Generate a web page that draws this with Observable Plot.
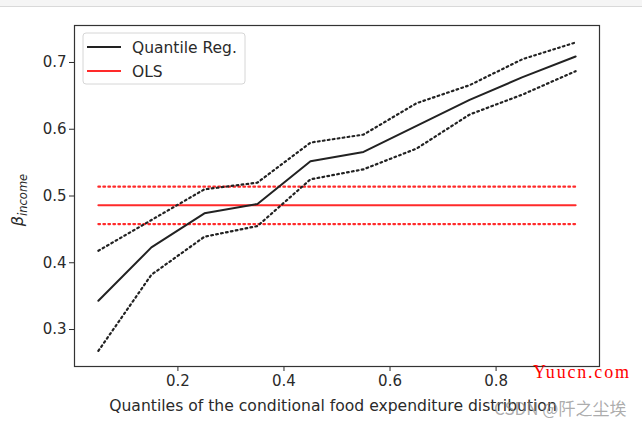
<!DOCTYPE html>
<html><head><meta charset="utf-8">
<script src="https://cdn.jsdelivr.net/npm/d3@7"></script>
<script src="https://cdn.jsdelivr.net/npm/@observablehq/plot@0.6"></script>
<style>
body{margin:0;background:#fff;}
#wrap{position:relative;width:642px;height:427px;overflow:hidden;background:#fff;}
#bar{position:absolute;left:0;top:0;width:642px;height:6px;background:#f5f5f5;border-bottom:1px solid #d9d9d9;}
#wrap svg{position:absolute;left:0;top:0;}
</style>
</head><body><div id="wrap"><div id="bar"></div></div>
<script>
const quantiles = [0.05, 0.15, 0.25, 0.35, 0.45, 0.55, 0.65, 0.75, 0.85, 0.95];
const qrCoef  = [0.343, 0.423, 0.474, 0.488, 0.552, 0.566, 0.605, 0.644, 0.678, 0.709];
const qrLower = [0.268, 0.382, 0.439, 0.455, 0.525, 0.540, 0.571, 0.622, 0.652, 0.687];
const qrUpper = [0.418, 0.464, 0.510, 0.520, 0.580, 0.592, 0.639, 0.666, 0.705, 0.730];
const olsCoef = 0.486, olsLower = 0.458, olsUpper = 0.514;
const xTicks = [0.2, 0.4, 0.6, 0.8];
const yTicks = [0.3, 0.4, 0.5, 0.6, 0.7];
const legendLabels = ["Quantile Reg.", "OLS"];
const xLabel = "Quantiles of the conditional food expenditure distribution";

const qr = quantiles.map((q, i) => ({q, b: qrCoef[i], lb: qrLower[i], ub: qrUpper[i]}));
const ols = quantiles.map(q => ({q, b: olsCoef, lb: olsLower, ub: olsUpper}));

const black = "#222", red = "#ff2a2a", dot = "1.7,3.3";
const font = "DejaVu Sans, sans-serif";

const chart = Plot.plot({
  width: 642, height: 427,
  marginLeft: 74, marginRight: 43, marginTop: 25, marginBottom: 61,
  style: {fontFamily: font, fontSize: "15px", color: "#2a2a2a", background: "transparent"},
  x: {domain: [0.005, 0.995], ticks: xTicks, tickFormat: d => d.toFixed(1), tickSize: 5, tickPadding: 4, label: null},
  y: {domain: [0.2446, 0.7554], ticks: yTicks, tickFormat: d => d.toFixed(1), tickSize: 5, tickPadding: 3, label: null},
  marks: [
    Plot.line(ols, {x: "q", y: "lb", stroke: red, strokeWidth: 2.2, strokeDasharray: dot}),
    Plot.line(ols, {x: "q", y: "ub", stroke: red, strokeWidth: 2.2, strokeDasharray: dot}),
    Plot.line(ols, {x: "q", y: "b", stroke: red, strokeWidth: 2}),
    Plot.line(qr, {x: "q", y: "lb", stroke: black, strokeWidth: 2.2, strokeDasharray: dot}),
    Plot.line(qr, {x: "q", y: "ub", stroke: black, strokeWidth: 2.2, strokeDasharray: dot}),
    Plot.line(qr, {x: "q", y: "b", stroke: black, strokeWidth: 2}),
    Plot.frame({stroke: "#333", strokeWidth: 1.2})
  ]
});

const svg = d3.select(chart);
// x label
svg.append("text").attr("x", 333).attr("y", 411).attr("text-anchor", "middle")
  .attr("font-family", font).attr("font-size", 15.6).attr("fill", "#2a2a2a").text(xLabel);
// y label
const yl = svg.append("text").attr("transform", "translate(23,200) rotate(-90)")
  .attr("text-anchor", "middle").attr("font-family", font).attr("fill", "#2a2a2a");
yl.append("tspan").attr("font-size", 16).attr("font-style", "italic").text("β");
yl.append("tspan").attr("font-size", 11.5).attr("font-style", "italic").attr("dy", 4).text("income");

// legend
const lg = svg.append("g");
lg.append("rect").attr("x", 83).attr("y", 33).attr("width", 162).attr("height", 51).attr("rx", 3)
  .attr("fill", "#fff").attr("fill-opacity", 0.85).attr("stroke", "#d6d6d6");
[[black, 47], [red, 71]].forEach(([c, y], i) => {
  lg.append("line").attr("x1", 87).attr("x2", 121).attr("y1", y).attr("y2", y).attr("stroke", c).attr("stroke-width", 2);
  lg.append("text").attr("x", 132).attr("y", y + 5.5).attr("text-anchor", "start").attr("font-family", font)
    .attr("font-size", 15.5).attr("fill", "#2a2a2a").text(legendLabels[i]);
});

// watermarks
svg.append("text").attr("x", 533).attr("y", 378).attr("text-anchor", "start").attr("font-family", "Liberation Serif, serif")
  .attr("font-size", 18).attr("textLength", 96).attr("lengthAdjust", "spacing").attr("fill", "#f00").text("Yuucn.com");
svg.append("text").attr("x", 494).attr("y", 415).attr("text-anchor", "start").attr("font-family", "Noto Sans CJK SC, sans-serif")
  .attr("font-size", 17).attr("fill", "#888").attr("fill-opacity", 0.7).text("CSDN @阡之尘埃");

document.getElementById("wrap").appendChild(chart);
</script>
</body></html>
